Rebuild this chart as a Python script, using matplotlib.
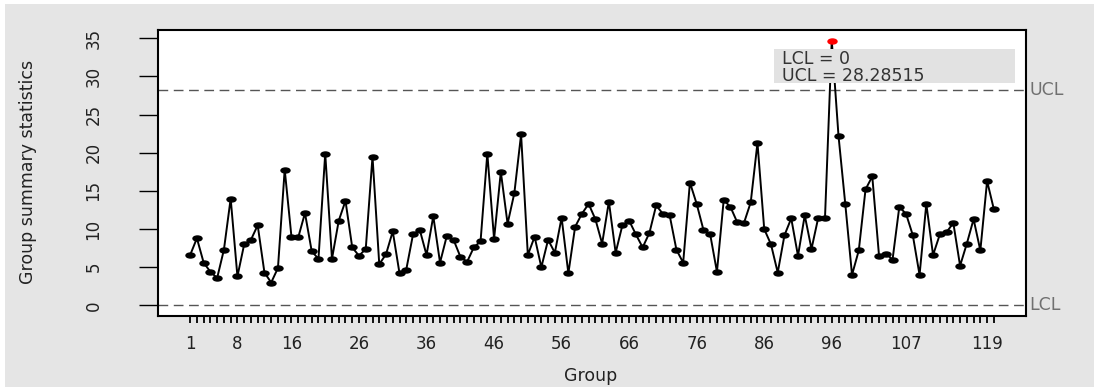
import numpy as np
import matplotlib
matplotlib.use("Agg")
import matplotlib.pyplot as plt
from matplotlib.path import Path
from matplotlib.transforms import Affine2D
from matplotlib.patches import Rectangle

# group summary statistics (groups 1..120)
values = [6.6, 8.8, 5.6, 4.4, 3.6, 7.3, 14.0, 3.8, 8.0, 8.6,
          10.5, 4.3, 3.0, 4.9, 17.8, 9.0, 8.9, 12.1, 7.1, 6.1,
          19.9, 6.1, 11.1, 13.7, 7.6, 6.5, 7.4, 19.5, 5.4, 6.7,
          9.7, 4.2, 4.7, 9.3, 9.9, 6.6, 11.7, 5.6, 9.1, 8.6,
          6.4, 5.7, 7.6, 8.4, 19.9, 8.7, 17.5, 10.7, 14.7, 22.4,
          6.6, 9.0, 5.0, 8.6, 6.9, 11.5, 4.2, 10.3, 12.0, 13.3,
          11.3, 8.1, 13.6, 6.9, 10.5, 11.1, 9.3, 7.6, 9.5, 13.1,
          12.0, 11.8, 7.3, 5.6, 16.1, 13.3, 9.9, 9.3, 4.4, 13.8,
          12.9, 10.9, 10.8, 13.5, 21.3, 10.0, 8.0, 4.3, 9.2, 11.4,
          6.5, 11.8, 7.4, 11.5, 11.5, 34.7, 22.2, 13.3, 4.0, 7.2,
          15.2, 16.9, 6.5, 6.8, 6.0, 12.9, 12.0, 9.2, 4.0, 13.3,
          6.6, 9.3, 9.6, 10.8, 5.2, 8.1, 11.3, 7.2, 16.3, 12.6]
groups = list(range(1, len(values) + 1))
tick_labels = [1, 8, 16, 26, 36, 46, 56, 66, 76, 86, 96, 107, 119]
LCL = 0
UCL = 28.28515

plt.rcParams['font.family'] = ['DejaVu Sans']

fig = plt.figure(figsize=(10.94, 3.87), dpi=100, facecolor='white')
fig.patches.append(Rectangle((5 / 1094, 0), 1, 1 - 4 / 387, transform=fig.transFigure,
                             facecolor='#e5e5e5', edgecolor='none', zorder=-10))
ax = fig.add_axes([158 / 1094, 1 - 316 / 387, 868 / 1094, 286 / 387])
ax.set_facecolor('white')

x = np.array(groups)
y = np.array(values)

# wide ellipse marker like the stretched R points
ellipse = Path.unit_circle().transformed(Affine2D().scale(1.8, 1.0))

ax.plot(x, y, color='black', lw=1.4, zorder=3)
ok = y <= UCL
ax.plot(x[ok], y[ok], ls='none', marker=ellipse, ms=6.5, color='black', zorder=4)
ax.plot(x[~ok], y[~ok], ls='none', marker=ellipse, ms=6.5, color='red', zorder=6)

ax.axhline(UCL, color='#555555', lw=1, ls=(0, (7, 4)), zorder=2)
ax.axhline(LCL, color='#555555', lw=1, ls=(0, (7, 4)), zorder=2)
ax.text(1.004, UCL, 'UCL', transform=ax.get_yaxis_transform(), ha='left', va='center',
        color='#707070', fontsize=12.5, clip_on=False)
ax.text(1.004, LCL, 'LCL', transform=ax.get_yaxis_transform(), ha='left', va='center',
        color='#707070', fontsize=12.5, clip_on=False)

# limits box
ax.add_patch(Rectangle((0.7097, 0.8147), 0.2776, 0.1189, transform=ax.transAxes,
                       facecolor='#e2e2e2', edgecolor='none', zorder=5))
ax.text(0.719, 0.899, 'LCL = 0', transform=ax.transAxes, ha='left', va='center',
        color='#333333', fontsize=12.5, zorder=7)
ax.text(0.719, 0.838, 'UCL = 28.28515', transform=ax.transAxes, ha='left', va='center',
        color='#333333', fontsize=12.5, zorder=7)

lo = min(LCL, y.min())
hi = max(UCL, y.max())
pad = 0.04 * (hi - lo)
ax.set_ylim(lo - pad, hi + pad)
xpad = 0.04 * (x.max() - x.min())
ax.set_xlim(x.min() - xpad, x.max() + xpad)

ax.set_xticks(groups)
ax.set_xticklabels([str(g) if g in tick_labels else '' for g in groups])
ax.tick_params(axis='x', length=5, width=1.3, color='black', labelsize=12,
               labelcolor='#222222', pad=9)
ax.set_yticks(range(0, 36, 5))
ax.tick_params(axis='y', length=14, width=1, color='black', labelsize=12,
               labelcolor='#222222', pad=26)
for lab in ax.get_yticklabels():
    lab.set_rotation(90)
    lab.set_va('center')

for sp in ax.spines.values():
    sp.set_linewidth(1.5)
    sp.set_color('black')

fig.text(0.498 * 868 / 1094 + 158 / 1094, 1 - 376 / 387, 'Group', ha='center', va='center',
         color='#222222', fontsize=12.5)
fig.text(28 / 1094, 1 - 172 / 387, 'Group summary statistics', rotation=90,
         ha='center', va='center', color='#222222', fontsize=12.5)

fig.savefig('out.png', dpi=100, facecolor=fig.get_facecolor())
